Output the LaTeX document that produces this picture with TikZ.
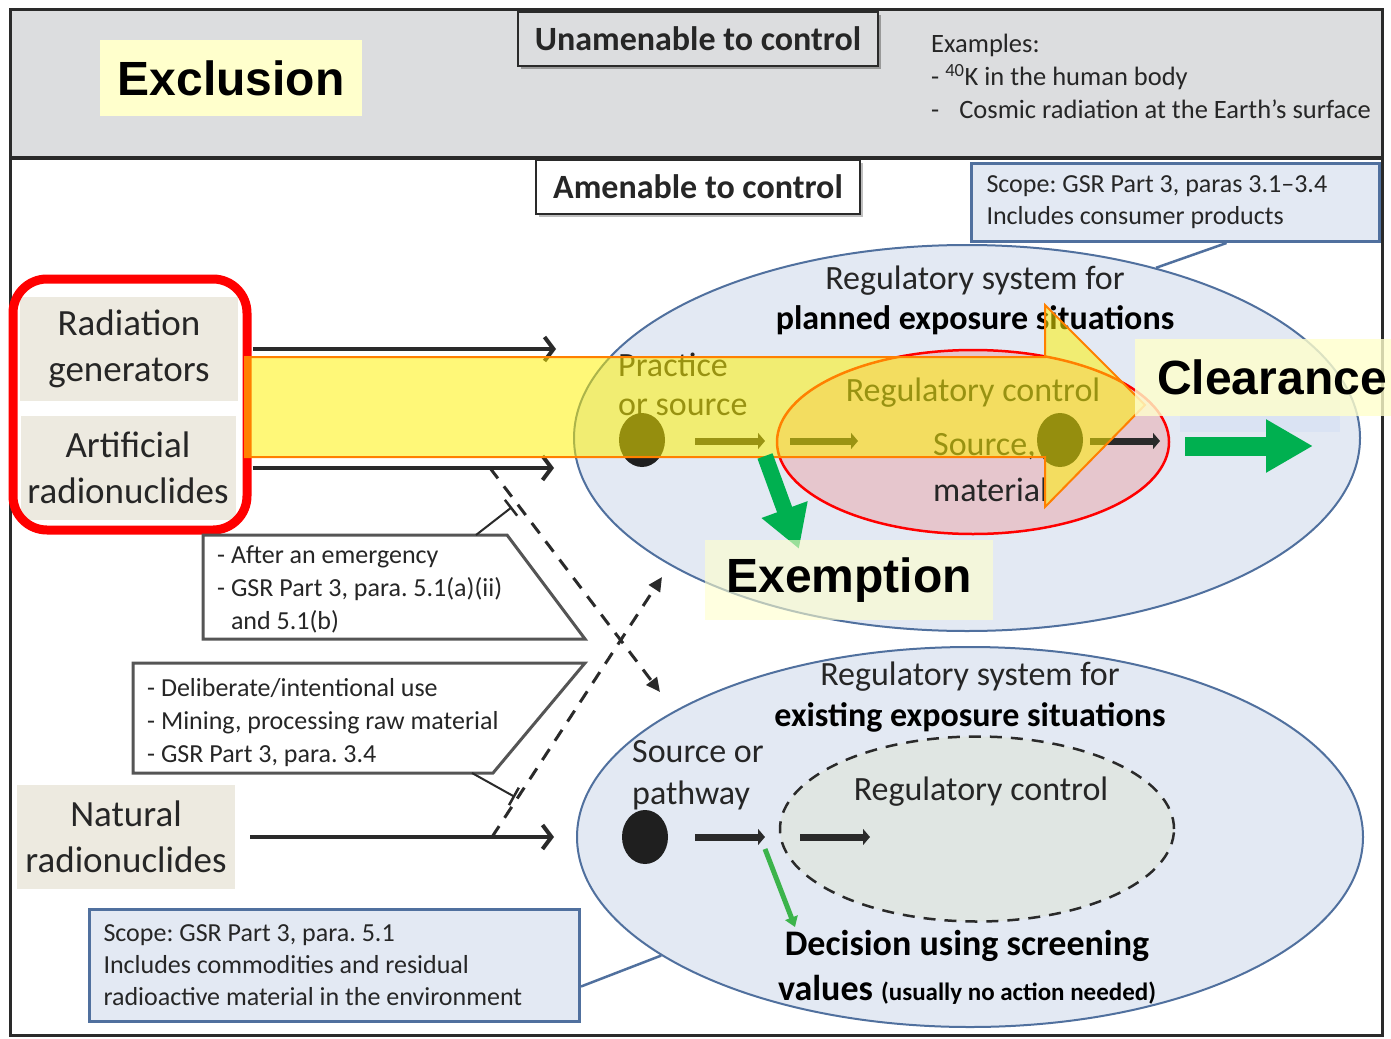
\documentclass[tikz,border=0pt]{standalone}
\usepackage{fontspec}
\setmainfont{Carlito}
\newfontfamily\headfont{Liberation Sans}
\usetikzlibrary{shapes.geometric,arrows.meta,shadows}
\frenchspacing

\definecolor{bandgrey}{HTML}{DCDDDF}
\definecolor{labelbeige}{HTML}{EDEAE0}
\definecolor{regblue}{HTML}{E3E9F3}
\definecolor{regedge}{HTML}{50709E}
\definecolor{ctrlred}{HTML}{E6C6CD}
\definecolor{ctrlgrey}{HTML}{E0E6E3}
\definecolor{paleyellow}{HTML}{FFFFCC}
\definecolor{exgreen}{HTML}{00B050}
\definecolor{lightgreen}{HTML}{3CB44B}
\definecolor{framedark}{HTML}{2A2A2A}
\definecolor{calloutgrey}{HTML}{555555}
\definecolor{stripblue}{HTML}{DAE3F3}

\newcommand{\smalltxt}{\fontsize{26}{32}\selectfont}
\newcommand{\midtxt}{\fontsize{34}{42}\selectfont}
\newcommand{\bigtxt}{\fontsize{37}{46}\selectfont}
\newcommand{\headtxt}{\headfont\bfseries\fontsize{48}{56}\selectfont}

\begin{document}
\begin{tikzpicture}[x=1pt,y=-1pt,
srcbox/.style={fill=labelbeige,align=center,font=\bigtxt,inner sep=0pt,minimum width=218pt,minimum height=104pt},
outcome/.style={fill=paleyellow,font=\headtxt,text=black,inner sep=0pt},
ctrlbox/.style={draw=framedark,line width=2.5pt,font=\midtxt\bfseries,inner sep=0pt,minimum height=54pt},
scopebox/.style={draw=regedge,line width=3pt,fill=regblue,font=\smalltxt,align=flush left,anchor=north west,inner ysep=0pt},
regsys/.style={ellipse,draw=regedge,line width=2pt,fill=regblue,inner sep=0pt},
blob/.style={ellipse,fill=black!88,minimum width=46pt,minimum height=54pt,inner sep=0pt},
feed/.style={line width=4pt,draw=framedark,-{Straight Barb[length=9pt,width=24pt]}},
flowarrow/.style={line width=7pt,draw=framedark,-{Triangle[length=7pt,width=16pt]}},
crossarrow/.style={line width=3pt,draw=framedark,dash pattern=on 13pt off 10pt,-{Triangle[length=14pt,width=13pt]}},
calloutptr/.style={line width=2pt,draw=framedark,-{Bar[width=20pt,line width=2.5pt]}},
calloutedge/.style={draw=calloutgrey,line width=3pt},
txt/.style={font=\midtxt,inner sep=0pt},
notetext/.style={font=\fontsize{26}{33}\selectfont,align=left,anchor=north west,inner sep=0pt}]
\tikzstyle{every node}=[text=black!85]

\useasboundingbox (0,0) rectangle (1391,1038);
\fill[white] (0,0) rectangle (1391,1038);
\fill[bandgrey] (10,10) rectangle (1382,158);
\draw[framedark,line width=3pt] (10,10) rectangle (1382,1035);
\draw[framedark,line width=4pt] (10,158) -- (1382,158);

\node[outcome,minimum width=262pt,minimum height=76pt] (exclusion) at (231,78) {Exclusion};
\node[ctrlbox,fill=bandgrey,minimum width=360pt,drop shadow={shadow xshift=3pt,shadow yshift=-3pt,fill=black!40,opacity=1}] (unamenable) at (698,39) {Unamenable to control};
\node[notetext,font=\fontsize{26.5}{33}\selectfont] (examples) at (931,34) {Examples:\\- \textsuperscript{40}K in the human body\\-\hspace{20pt}Cosmic radiation at the Earth's surface};
\node[ctrlbox,fill=white,minimum width=324pt,drop shadow={shadow xshift=3pt,shadow yshift=-3pt,fill=black!25,opacity=1}] (amenable) at (698,187) {Amenable to control};

\node[regsys,minimum width=786pt,minimum height=386pt] (planned) at (967,438) {};
\node[scopebox,minimum width=408pt,minimum height=78pt,text width=378pt,inner xsep=15pt] (plscope) at (970,162) {Scope: GSR Part 3, paras 3.1--3.4\\Includes consumer products};
\draw[regedge,line width=2.5pt] ([xshift=51pt]plscope.south) -- (planned.42);
\node[ellipse,draw=red,line width=2.5pt,fill=ctrlred,minimum width=392pt,minimum height=184pt] (plcontrol) at (973,442) {};
\node[txt] (pltitle) at (975,281) {Regulatory system for};
\node[txt,font=\midtxt\bfseries,text=black] (plsub) at (975,320) {planned exposure situations};
\node[txt] (plctrltext) at (973,393) {Regulatory control};
\node[txt,anchor=west] (practice) at (618,365) {Practice};
\node[txt,anchor=west] (orsource) at (618,407) {or source};
\node[txt,anchor=west] (srcword) at (933,447) {Source,};
\node[txt,anchor=west] (material) at (933,490) {material};
\node[blob] (pldot) at (642,440) {};
\node[blob] (plsrcdot) at (1060,440) {};
\coordinate (pla) at (695,441);
\coordinate (plb) at (765,441);
\coordinate (plc) at (790,441);
\coordinate (pld) at (858,441);
\coordinate (ple) at (1090,441);
\coordinate (plf) at (1160,441);
\draw[flowarrow] (pla) -- (plb);
\draw[flowarrow] (plc) -- (pld);
\draw[flowarrow] (ple) -- (plf);

\node[srcbox] (radgen) at (129,349) {Radiation\\generators};
\node[srcbox,minimum width=215pt] (artnuc) at (128,468) {Artificial\\radionuclides};
\node[srcbox] (natnuc) at (126,837) {Natural\\radionuclides};
\draw[red,line width=9pt,rounded corners=34pt] (13,279) rectangle (247,530);
\coordinate (rgtip) at (556,349);
\coordinate (antip) at (554,468);
\coordinate (nntip) at (554,837);
\draw[feed] (radgen.east) ++(15,0) -- (rgtip);
\draw[feed] (artnuc.east) ++(17,0) -- (antip);
\draw[feed] (natnuc.east) ++(15,0) -- (nntip);

\filldraw[fill=yellow,fill opacity=0.53,draw=orange,line width=2pt] (245,357) -- (1045,357) -- (1045,305) -- (1145,405) -- (1045,507) -- (1045,457) -- (245,457) -- cycle;

\coordinate (exstart) at (765,456);
\coordinate (exend) at (799,549);
\draw[exgreen,line width=16pt,-{Triangle[length=42pt,width=46pt]}] (exstart) -- (exend);
\fill[stripblue] (1180,400) rectangle (1340,432);
\coordinate (clstart) at (1185,446);
\coordinate (clend) at (1313,446);
\draw[exgreen,line width=19pt,-{Triangle[length=47pt,width=50pt]}] (clstart) -- (clend);
\node[outcome,fill opacity=0.8,text opacity=1,minimum width=274pt,minimum height=77pt] (clearance) at (1272,377) {Clearance};
\node[outcome,fill opacity=0.6,text opacity=1,minimum width=288pt,minimum height=80pt] (exemption) at (849,580) {Exemption};

\node[regsys,minimum width=786pt,minimum height=380pt] (existing) at (970,837) {};
\node[ellipse,draw=framedark,fill=ctrlgrey,line width=2.5pt,dash pattern=on 12pt off 9pt,minimum width=394pt,minimum height=185pt] (excontrol) at (977,829) {};
\node[txt] (extitle) at (970,677) {Regulatory system for};
\node[txt,font=\midtxt\bfseries,text=black] (exsub) at (970,717) {existing exposure situations};
\node[txt,anchor=west] (sourceor) at (632,752) {Source or};
\node[txt,anchor=west] (pathway) at (632,795) {pathway};
\node[txt] (exctrltext) at (981,792) {Regulatory control};
\node[blob] (exdot) at (645,837) {};
\coordinate (exa) at (695,837);
\coordinate (exb) at (765,837);
\coordinate (exc) at (800,837);
\coordinate (exd) at (870,837);
\draw[flowarrow] (exa) -- (exb);
\draw[flowarrow] (exc) -- (exd);
\coordinate (scrstart) at (765,849);
\coordinate (scrend) at (795,927);
\draw[lightgreen,line width=5pt,-{Triangle[length=10pt,width=13pt]}] (scrstart) -- (scrend);
\node[txt,font=\fontsize{36}{42}\selectfont\bfseries,text=black] (decision) at (967,946) {Decision using screening};
\node[txt,font=\fontsize{36}{42}\selectfont\bfseries,text=black] (values) at (967,990) {values {\fontsize{25}{28}\selectfont (usually no action needed)}};
\node[scopebox,minimum width=490pt,minimum height=112pt,text width=462pt,inner xsep=14pt] (exscope) at (88,908) {Scope: GSR Part 3, para. 5.1\\Includes commodities and residual\\radioactive material in the environment};
\draw[regedge,line width=2.5pt] ([yshift=-21pt]exscope.east) -- (existing.201);

\coordinate (anfork) at (490,468);
\coordinate (nnfork) at (492,837);
\coordinate (toexist) at (660,692);
\coordinate (toplanned) at (662,577);
\draw[crossarrow] (anfork) -- (toexist);
\draw[crossarrow] (nnfork) -- (toplanned);

\draw[calloutedge] (203,535) -- (507,535) -- (585,639) -- (203,639) -- cycle;
\node[notetext] (emergency) at (217,545) {- After an emergency\\- GSR Part 3, para. 5.1(a)(ii)\\\phantom{- }and 5.1(b)};
\coordinate (emgfrom) at (476,535);
\coordinate (emgtip) at (512,507);
\draw[calloutptr] (emgfrom) -- (emgtip);
\draw[calloutedge] (133,663) -- (585,663) -- (493,773) -- (133,773) -- cycle;
\node[notetext] (deliberate) at (147,678) {- Deliberate/intentional use\\- Mining, processing raw material\\- GSR Part 3, para. 3.4};
\coordinate (delfrom) at (472,773);
\coordinate (deltip) at (515,797);
\draw[calloutptr] (delfrom) -- (deltip);
\end{tikzpicture}
\end{document}
